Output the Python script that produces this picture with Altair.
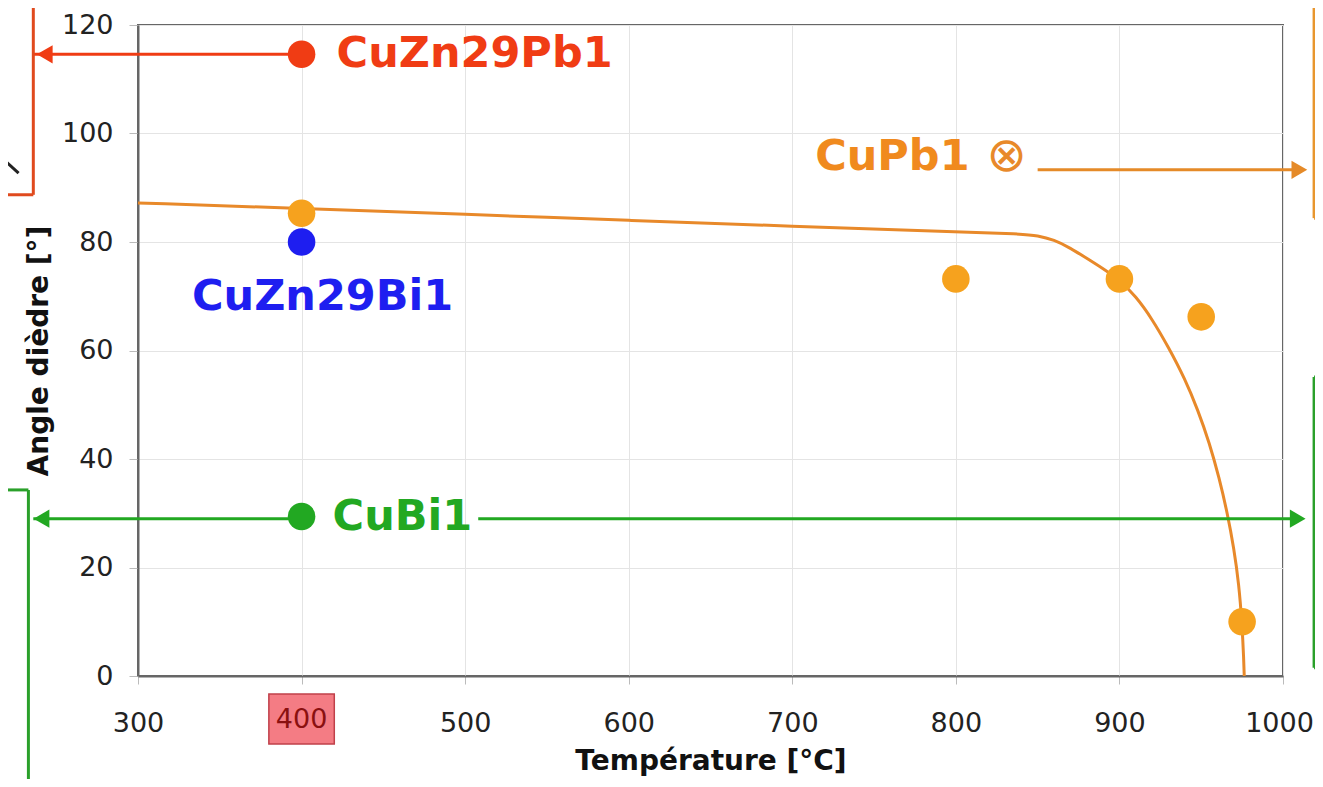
import altair as alt
import pandas as pd

# ---------------- data ----------------
x_ticks = [300, 400, 500, 600, 700, 800, 900, 1000]
y_ticks = [0, 20, 40, 60, 80, 100, 120]

# CuPb1 measured points
cupb_temp = [400, 800, 900, 950, 975]
cupb_angle = [85.3, 73.2, 73.2, 66.2, 10.0]

# CuPb1 fitted curve
curve_temp = [300, 400, 500, 600, 700, 800, 840, 850, 860, 870, 880, 890, 900, 910, 920, 930, 940,
              948, 955, 961, 966, 970, 973, 975, 976, 976.3]
curve_angle = [87.2, 86.2, 85.1, 84.0, 82.9, 81.9, 81.5, 81.2, 80.4, 78.9, 77.0, 75.1, 73.0, 70.0,
               65.8, 60.6, 54.8, 49.0, 43.0, 36.5, 30.0, 23.5, 17.0, 9.5, 3.0, 0.0]

# single-point alloys at 400 °C
alloy_names = ["CuZn29Pb1", "CuZn29Bi1", "CuBi1"]
alloy_temp = [400, 400, 400]
alloy_angle = [114.6, 80.0, 29.4]
alloy_colors = ["#f03c14", "#1e1ef0", "#22a822"]

# annotation geometry (data units)
ann_x1 = [236, 236, 508, 850, 236, 214, 214, 1019, 1019, 1019, 1019, 1019, 216]
ann_x2 = [400, 236, 1010, 1011, 400, 236, 233, 1019, 1035, 1019, 1035, 1035, 227]
ann_y1 = [114.6, 88.7, 29.0, 93.3, 29.0, 88.7, 34.3, 84.4, 84.4, 1.5, 55.1, 1.5, 95.7]
ann_y2 = [114.6, 127, 29.0, 93.3, 29.0, 88.7, 34.3, 127, 84.4, 55.1, 55.1, 1.5, 92.7]
ann_col = ["#f03c14", "#e04a1e", "#22a822", "#e58a28", "#22a822", "#e04a1e",
           "#2aa02a", "#e8962e", "#e8962e", "#2aa02a", "#2aa02a", "#2aa02a", "#222222"]
# the green left box vertical
box_x = [233]
box_y1 = [-25]
box_y2 = [34.3]

# arrow heads
head_x = [243, 241, 1009, 1010]
head_y = [114.6, 29.0, 29.0, 93.3]
head_shape = ["triangle-left", "triangle-left", "triangle-right", "triangle-right"]
head_col = ["#f03c14", "#22a822", "#22a822", "#e58a28"]

# highlighted tick label
hl_label = ["400"]
hl_x = [400]

FONT = "DejaVu Sans"
ORANGE_PT = "#f6a21e"
ORANGE_LN = "#e8892a"

# ---------------- frames ----------------
pts_df = pd.DataFrame({"t": cupb_temp, "a": cupb_angle})
curve_df = pd.DataFrame({"t": curve_temp, "a": curve_angle})
alloy_df = pd.DataFrame({"name": alloy_names, "t": alloy_temp, "a": alloy_angle, "c": alloy_colors})
ann_df = pd.DataFrame({"x1": ann_x1, "x2": ann_x2, "y1": ann_y1, "y2": ann_y2, "c": ann_col})
box_df = pd.DataFrame({"x": box_x, "y1": box_y1, "y2": box_y2})
head_df = pd.DataFrame({"x": head_x, "y": head_y, "s": head_shape, "c": head_col})
hl_df = pd.DataFrame({"label": hl_label, "x": hl_x})

xs = alt.Scale(domain=[300, 1000], nice=False, zero=False)
ys = alt.Scale(domain=[0, 120], nice=False, zero=False)

x_axis = alt.Axis(values=x_ticks, title="Température [°C]", grid=True, format="d",
                  labelExpr="datum.value == 400 ? '' : datum.label",
                  labelFlush=False, labelOverlap=False,
                  labelOffset={"condition": {"test": "datum.value == 1000", "value": -4}, "value": 0},
                  labelFontSize=27, labelFont=FONT, labelColor="#222",
                  labelPadding=26, tickSize=8, tickColor="#bbb",
                  titleFont=FONT, titleFontSize=28, titleFontWeight="bold",
                  titleColor="#111", titlePadding=11,
                  domainColor="#666", domainWidth=2, gridColor="#e4e4e4")
y_axis = alt.Axis(values=y_ticks, title="Angle dièdre [°]", grid=True,
                  labelFlush=False, labelOverlap=False,
                  labelFontSize=27, labelFont=FONT, labelColor="#222",
                  labelPadding=16, tickSize=9, tickColor="#bbb",
                  titleFont=FONT, titleFontSize=28, titleFontWeight="bold",
                  titleColor="#111", titlePadding=8,
                  domainColor="#666", domainWidth=2, gridColor="#e4e4e4")

base_x = alt.X("t:Q", scale=xs, axis=x_axis)
base_y = alt.Y("a:Q", scale=ys, axis=y_axis)

curve = alt.Chart(curve_df).mark_line(color=ORANGE_LN, strokeWidth=3, interpolate="basis").encode(
    x=base_x, y=base_y)

ann = alt.Chart(ann_df).mark_rule(strokeWidth=3).encode(
    x=alt.X("x1:Q", scale=xs), x2="x2:Q",
    y=alt.Y("y1:Q", scale=ys), y2="y2:Q",
    color=alt.Color("c:N", scale=None))

box = alt.Chart(box_df).mark_rule(strokeWidth=3, color="#2aa02a").encode(
    x=alt.X("x:Q", scale=xs), y=alt.Y("y1:Q", scale=ys), y2="y2:Q")

heads = alt.Chart(head_df).mark_point(filled=True, size=330, opacity=1).encode(
    x=alt.X("x:Q", scale=xs), y=alt.Y("y:Q", scale=ys),
    shape=alt.Shape("s:N", scale=None),
    color=alt.Color("c:N", scale=None))

pts = alt.Chart(pts_df).mark_circle(size=760, color=ORANGE_PT, opacity=1).encode(
    x=alt.X("t:Q", scale=xs), y=alt.Y("a:Q", scale=ys))

alloy_pts = alt.Chart(alloy_df).mark_circle(size=760, opacity=1).encode(
    x=alt.X("t:Q", scale=xs), y=alt.Y("a:Q", scale=ys),
    color=alt.Color("c:N", scale=None))

lbl_style = dict(font=FONT, fontSize=43, fontWeight="bold", baseline="middle")
lbl_pb = alt.Chart(alloy_df.iloc[[0]]).mark_text(align="left", dx=35, **lbl_style).encode(
    x=alt.X("t:Q", scale=xs), y=alt.Y("a:Q", scale=ys), text="name:N",
    color=alt.Color("c:N", scale=None))
lbl_bi = alt.Chart(alloy_df.iloc[[1]]).mark_text(align="center", dx=21, dy=55, **lbl_style).encode(
    x=alt.X("t:Q", scale=xs), y=alt.Y("a:Q", scale=ys), text="name:N",
    color=alt.Color("c:N", scale=None))
lbl_cubi = alt.Chart(alloy_df.iloc[[2]]).mark_text(align="left", dx=31, **lbl_style).encode(
    x=alt.X("t:Q", scale=xs), y=alt.Y("a:Q", scale=ys), text="name:N",
    color=alt.Color("c:N", scale=None))

cupb_lbl_df = pd.DataFrame({"name": ["CuPb1"], "x": [714], "y": [95.6]})
lbl_cupb = alt.Chart(cupb_lbl_df).mark_text(align="left", color="#f08a1e", **lbl_style).encode(
    x=alt.X("x:Q", scale=xs), y=alt.Y("y:Q", scale=ys), text="name:N")
sym_df = pd.DataFrame({"name": ["⊗"], "x": [831], "y": [95.6]})
lbl_sym = alt.Chart(sym_df).mark_text(align="center", baseline="middle", font=FONT, fontSize=48,
                                      fontStyle="italic", color="#e8892a").encode(
    x=alt.X("x:Q", scale=xs), y=alt.Y("y:Q", scale=ys), text="name:N")

hl_rect = alt.Chart(hl_df).mark_rect(fill="#f47c84", stroke="#c0404a", strokeWidth=1.5).encode(
    x=alt.datum(380, scale=xs), x2=alt.datum(420), y=alt.value(669), y2=alt.value(719))
hl_text = alt.Chart(hl_df).mark_text(font=FONT, fontSize=27, color="#8a1010",
                                     baseline="middle", align="center").encode(
    x=alt.X("x:Q", scale=xs), y=alt.value(695), text="label:N")

chart = alt.layer(curve, ann, box, heads, pts, alloy_pts, lbl_pb, lbl_bi, lbl_cubi,
                  lbl_cupb, lbl_sym, hl_rect, hl_text).properties(
    width=1145, height=651,
    autosize=alt.AutoSizeParams(type="none"),
    padding={"left": 130, "top": 17, "right": 32, "bottom": 103},
    background="white",
).configure_view(stroke="#666", strokeWidth=2)

chart.save("out.html", embed_options={"renderer": "svg", "actions": False})
